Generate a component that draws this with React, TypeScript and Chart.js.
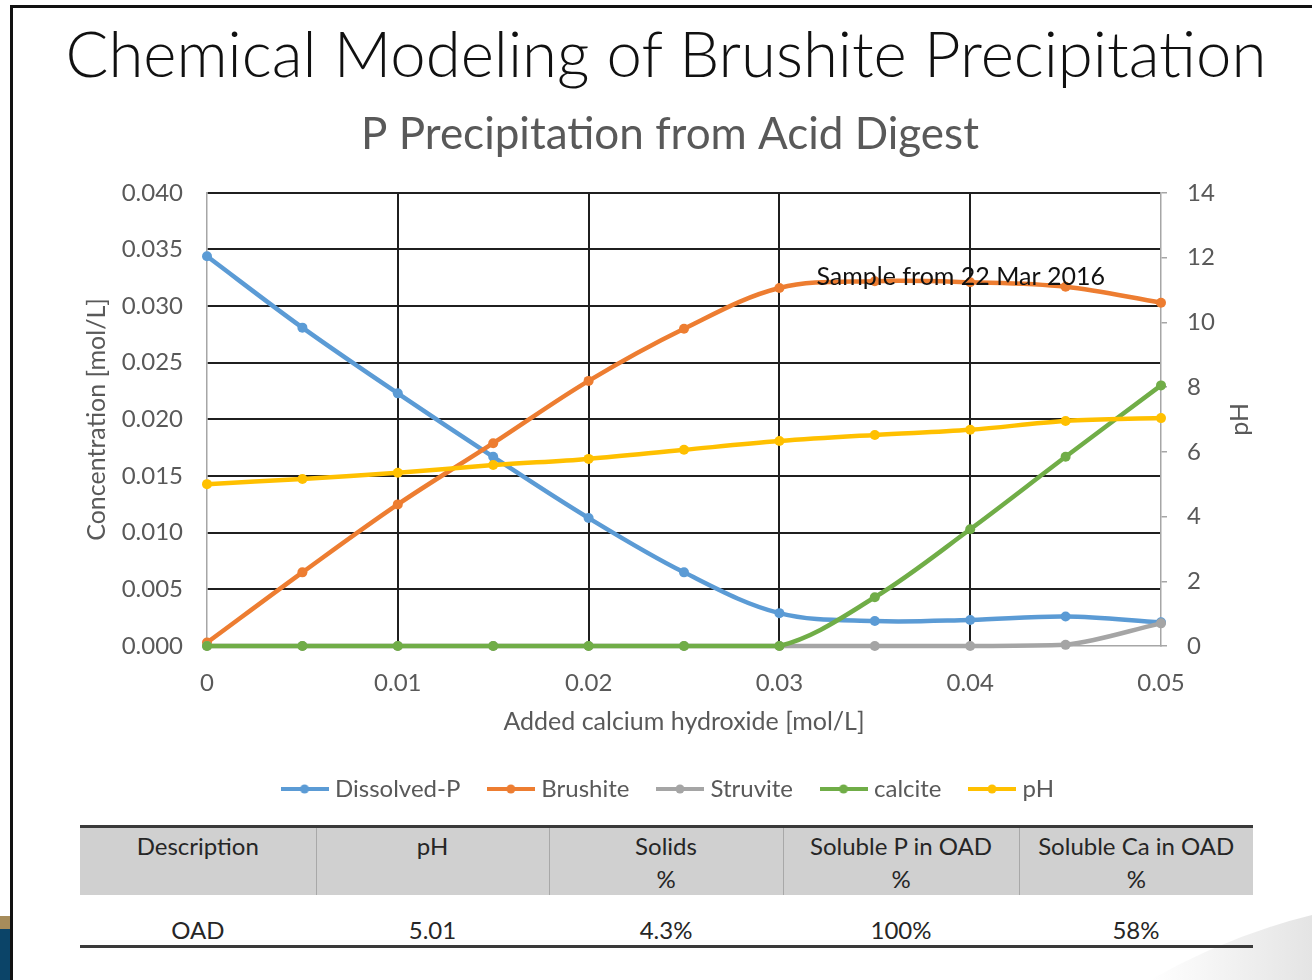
import React, { useEffect, useRef } from 'react';
import { Chart, registerables } from 'chart.js';

Chart.register(...registerables);

// ---------- data ----------
const SLIDE_TITLE = 'Chemical Modeling of Brushite Precipitation';
const CHART_TITLE = 'P Precipitation from Acid Digest';
const X_TITLE = 'Added calcium hydroxide [mol/L]';
const Y_TITLE = 'Concentration [mol/L]';
const Y2_TITLE = 'pH';

const X_VALUES = [0, 0.005, 0.01, 0.015, 0.02, 0.025, 0.03, 0.035, 0.04, 0.045, 0.05];
const DISSOLVED_P = [0.0344, 0.0281, 0.0223, 0.0167, 0.0113, 0.0065, 0.0029, 0.0022, 0.0023, 0.0026, 0.0021];
const BRUSHITE = [0.0003, 0.0065, 0.0125, 0.0179, 0.0234, 0.028, 0.0316, 0.0322, 0.0321, 0.0317, 0.0303];
const STRUVITE = [0, 0, 0, 0, 0, 0, 0, 0, 0, 0.0001, 0.002];
const CALCITE = [0, 0, 0, 0, 0, 0, 0, 0.0043, 0.0103, 0.0167, 0.023];
const PH = [5.0, 5.16, 5.35, 5.59, 5.78, 6.06, 6.33, 6.52, 6.68, 6.95, 7.04];

const SERIES_NAMES = ['Dissolved-P', 'Brushite', 'Struvite', 'calcite', 'pH'];
const SERIES_COLORS = ['#5b9bd5', '#ed7d31', '#a5a5a5', '#70ad47', '#ffc000'];

const X_TICKS = [0, 0.01, 0.02, 0.03, 0.04, 0.05];
const X_TICK_LABELS = ['0', '0.01', '0.02', '0.03', '0.04', '0.05'];
const Y_TICKS = [0, 0.005, 0.01, 0.015, 0.02, 0.025, 0.03, 0.035, 0.04];
const Y_TICK_LABELS = ['0.000', '0.005', '0.010', '0.015', '0.020', '0.025', '0.030', '0.035', '0.040'];
const Y2_TICKS = [0, 2, 4, 6, 8, 10, 12, 14];
const Y2_TICK_LABELS = ['0', '2', '4', '6', '8', '10', '12', '14'];

const ANNOTATION_TEXT = 'Sample from 22 Mar 2016';
const ANNOTATION_X = 0.0395;
const ANNOTATION_Y = 0.0326;

const TABLE_HEADERS = [['Description'], ['pH'], ['Solids', '%'], ['Soluble P in OAD', '%'], ['Soluble Ca in OAD', '%']];
const TABLE_ROW = ['OAD', '5.01', '4.3%', '100%', '58%'];

// ---------- styles ----------
const FONT = 'Lato, "Open Sans", sans-serif';
const GREY_TEXT = '#595959';
const AXIS_GREY = '#a6a6a6';
const GRID_BLACK = '#1f1f1f';

function legendImage(color: string): HTMLCanvasElement {
  const c = document.createElement('canvas');
  c.width = 48;
  c.height = 12;
  const g = c.getContext('2d')!;
  g.strokeStyle = color;
  g.lineWidth = 4;
  g.beginPath();
  g.moveTo(0, 6);
  g.lineTo(48, 6);
  g.stroke();
  g.fillStyle = color;
  g.beginPath();
  g.arc(24, 6, 4.5, 0, Math.PI * 2);
  g.fill();
  return c;
}

const extrasPlugin = {
  id: 'extras',
  afterDatasetsDraw(chart: any) {
    const { ctx, scales } = chart;
    const x = scales.x.getPixelForValue(ANNOTATION_X);
    const y = scales.y.getPixelForValue(ANNOTATION_Y);
    ctx.save();
    ctx.font = `25px ${FONT}`;
    ctx.fillStyle = '#111111';
    ctx.textAlign = 'center';
    ctx.textBaseline = 'middle';
    ctx.fillText(ANNOTATION_TEXT, x, y);
    ctx.restore();

    const r = scales.y2;
    ctx.save();
    ctx.translate(r.left + 79, (chart.chartArea.top + chart.chartArea.bottom) / 2);
    ctx.rotate(-Math.PI / 2);
    ctx.font = `25px ${FONT}`;
    ctx.fillStyle = GREY_TEXT;
    ctx.textAlign = 'center';
    ctx.textBaseline = 'middle';
    ctx.fillText(Y2_TITLE, 0, 0);
    ctx.restore();
  },
};

function ChartBlock() {
  const ref = useRef<HTMLCanvasElement | null>(null);
  useEffect(() => {
    if (!ref.current) return;
    const seriesValues = [DISSOLVED_P, BRUSHITE, STRUVITE, CALCITE, PH];
    const orders = [5, 4, 3, 2, 1];
    const images = SERIES_COLORS.map(legendImage);
    const datasets = seriesValues.map((vals, i) => ({
      label: SERIES_NAMES[i],
      data: vals.map((v, j) => ({ x: X_VALUES[j], y: v })),
      borderColor: SERIES_COLORS[i],
      backgroundColor: SERIES_COLORS[i],
      pointBackgroundColor: SERIES_COLORS[i],
      pointBorderWidth: 0,
      pointRadius: 5,
      borderWidth: 4.5,
      tension: 0.35,
      clip: false,
      order: orders[i],
      yAxisID: i === 4 ? 'y2' : 'y',
    }));
    const tickFont = { family: FONT, size: 24 };
    const titleFont = { family: FONT, size: 25 };
    const chart = new Chart(ref.current, {
      type: 'line',
      data: { datasets },
      plugins: [extrasPlugin],
      options: {
        animation: false,
        responsive: false,
        maintainAspectRatio: false,
        layout: { padding: { left: 28, right: 0, top: 0, bottom: 0 } },
        plugins: {
          tooltip: { enabled: false },
          title: {
            display: true,
            text: CHART_TITLE,
            color: GREY_TEXT,
            font: { family: FONT, size: 44, weight: 'normal' },
            padding: { top: 8, bottom: 32 },
          },
          legend: {
            position: 'bottom',
            labels: {
              usePointStyle: true,
              pointStyleWidth: 37,
              padding: 32,
              color: GREY_TEXT,
              font: { family: FONT, size: 24 },
              sort: (a: any, b: any) => a.datasetIndex - b.datasetIndex,
              generateLabels: (ch: any) => {
                const items = (Chart as any).defaults.plugins.legend.labels.generateLabels(ch);
                return items.map((it: any) => ({ ...it, pointStyle: images[it.datasetIndex], fontColor: GREY_TEXT }));
              },
            },
          },
        },
        scales: {
          x: {
            type: 'linear',
            min: 0,
            max: 0.05,
            afterBuildTicks: (s: any) => { s.ticks = X_TICKS.map((v) => ({ value: v })); },
            afterFit: (s: any) => { s.height = 99; },
            ticks: {
              color: GREY_TEXT,
              font: tickFont,
              padding: 23,
              maxRotation: 0,
              callback: (_v: any, i: number) => X_TICK_LABELS[i],
            },
            grid: {
              drawTicks: false,
              lineWidth: 2,
              color: (c: any) => (c.index === 0 || c.index === X_TICKS.length - 1 ? 'rgba(0,0,0,0)' : GRID_BLACK),
            },
            border: { display: true, color: AXIS_GREY, width: 1.5 },
            title: {
              display: true,
              text: X_TITLE,
              color: GREY_TEXT,
              font: titleFont,
              padding: { top: 4, bottom: 8 },
            },
          },
          y: {
            type: 'linear',
            position: 'left',
            min: 0,
            max: 0.04,
            afterBuildTicks: (s: any) => { s.ticks = Y_TICKS.map((v) => ({ value: v })); },
            afterFit: (s: any) => { s.width = 179; },
            ticks: {
              color: GREY_TEXT,
              font: tickFont,
              padding: 24,
              callback: (_v: any, i: number) => Y_TICK_LABELS[i],
            },
            grid: {
              drawTicks: false,
              lineWidth: 2,
              color: (c: any) => (c.index === 0 ? 'rgba(0,0,0,0)' : GRID_BLACK),
            },
            border: { display: true, color: AXIS_GREY, width: 1.5 },
            title: {
              display: true,
              text: Y_TITLE,
              color: GREY_TEXT,
              font: titleFont,
              padding: { top: 54, bottom: 4 },
            },
          },
          y2: {
            type: 'linear',
            position: 'right',
            min: 0,
            max: 14,
            afterBuildTicks: (s: any) => { s.ticks = Y2_TICKS.map((v) => ({ value: v })); },
            afterFit: (s: any) => { s.width = 151; },
            ticks: {
              color: GREY_TEXT,
              font: tickFont,
              padding: 20,
              callback: (_v: any, i: number) => Y2_TICK_LABELS[i],
            },
            grid: {
              drawOnChartArea: false,
              drawTicks: true,
              tickLength: 6,
              color: AXIS_GREY,
              lineWidth: 1.5,
            },
            border: { display: true, color: AXIS_GREY, width: 1.5 },
          },
        },
      } as any,
    });
    return () => chart.destroy();
  }, []);
  return (
    <canvas
      ref={ref}
      width={1312}
      height={711}
      style={{ position: 'absolute', left: 0, top: 100, width: 1312, height: 711 }}
    />
  );
}

export default function App() {
  const colWidths = [236, 233, 234, 236, 234];
  return (
    <div
      style={{
        position: 'fixed',
        left: 0,
        top: 0,
        width: 1312,
        height: 980,
        background: '#ffffff',
        overflow: 'hidden',
        fontFamily: FONT,
      }}
    >
      {/* slide frame */}
      <div style={{ position: 'absolute', left: 10, top: 5, width: 1302, height: 2.5, background: '#111' }} />
      <div style={{ position: 'absolute', left: 10, top: 5, width: 2.5, height: 975, background: '#111' }} />
      <div style={{ position: 'absolute', left: 0, top: 916, width: 10, height: 13, background: '#a68c5b' }} />
      <div style={{ position: 'absolute', left: 0, top: 929, width: 10, height: 51, background: '#0b4468' }} />
      <svg style={{ position: 'absolute', left: 0, top: 0 }} width={1312} height={980}>
        <defs>
          <linearGradient id="sw" x1="0" y1="0" x2="1" y2="0">
            <stop offset="0" stopColor="#ffffff" />
            <stop offset="1" stopColor="#e4e4e4" />
          </linearGradient>
        </defs>
        <path d="M1150 980 Q1230 935 1312 915 L1312 980 Z" fill="url(#sw)" />
      </svg>

      <div
        style={{
          position: 'absolute',
          left: 10,
          top: 15,
          width: 1312,
          textAlign: 'center',
          fontSize: 63.5,
          fontWeight: 300,
          lineHeight: '76px',
          color: '#111',
          whiteSpace: 'nowrap',
        }}
      >
        {SLIDE_TITLE}
      </div>

      <ChartBlock />

      <table
        style={{
          position: 'absolute',
          left: 80,
          top: 825,
          borderCollapse: 'collapse',
          tableLayout: 'fixed',
          width: 1173,
          fontSize: 24,
          color: '#262626',
        }}
      >
        <colgroup>
          {colWidths.map((w, i) => (
            <col key={i} style={{ width: w }} />
          ))}
        </colgroup>
        <tbody>
          <tr style={{ background: '#d0d0d0', borderTop: '3px solid #3a3a3a' }}>
            {TABLE_HEADERS.map((lines, i) => (
              <td
                key={i}
                style={{
                  height: 63,
                  padding: '1px 0 0 0',
                  verticalAlign: 'top',
                  textAlign: 'center',
                  lineHeight: '33px',
                  borderLeft: i === 0 ? 'none' : '1px solid #a8a8a8',
                }}
              >
                {lines.map((l, k) => (
                  <div key={k}>{l}</div>
                ))}
              </td>
            ))}
          </tr>
          <tr style={{ borderBottom: '3px solid #3a3a3a' }}>
            {TABLE_ROW.map((v, i) => (
              <td
                key={i}
                style={{ height: 29, padding: '20px 0 0 0', lineHeight: '30px', textAlign: 'center', verticalAlign: 'top' }}
              >
                {v}
              </td>
            ))}
          </tr>
        </tbody>
      </table>
    </div>
  );
}
